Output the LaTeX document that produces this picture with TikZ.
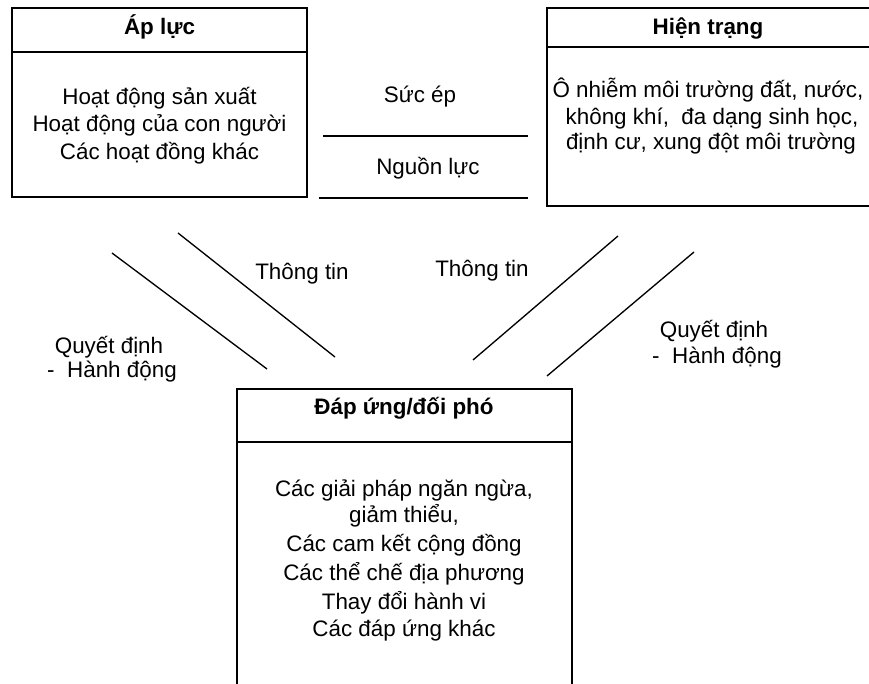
\documentclass[tikz,border=0pt]{standalone}
\usepackage{fontspec}
\setmainfont{Liberation Sans}
\begin{document}
\begin{tikzpicture}[x=0.75pt,y=-0.75pt,
  boxline/.style={line width=1.1pt},
  link/.style={line width=1pt},
  txt/.style={font=\fontsize{16.8}{20}\selectfont, inner sep=0pt, anchor=base},
  hdr/.style={txt, font=\fontsize{16.8}{20}\selectfont\bfseries}]
\useasboundingbox (0,0) rectangle (869,684);
\clip (0,0) rectangle (869,684);

% Left box: Ap luc
\draw[boxline] (12,8) rectangle (307,197);
\draw[boxline] (12,52) -- (307,52);
\node[hdr] (apH) at (159.5,35) {Áp lực};
\node[txt] (ap1) at (159.5,105) {Hoạt động sản xuất};
\node[txt] (ap2) at (159.5,132) {Hoạt động của con người};
\node[txt] (ap3) at (159.5,160) {Các hoạt đồng khác};

% Right box: Hien trang
\draw[boxline] (547,8) rectangle (874,206);
\draw[boxline] (547,47) -- (874,47);
\node[hdr] (htH) at (708,35) {Hiện trạng};
\node[txt] (ht1) at (708,98) {Ô nhiễm môi trường đất, nước,};
\node[txt] (ht2) at (712,124.5) {không khí,\ \ đa dạng sinh học,};
\node[txt] (ht3) at (711,150) {định cư, xung đột môi trường};

% Bottom box: Dap ung
\draw[boxline] (237,700) -- (237,389) -- (572,389) -- (572,700);
\draw[boxline] (237,442) -- (572,442);
\node[hdr] (duH) at (404,415) {Đáp ứng/đối phó};
\node[txt] (du1) at (404,497) {Các giải pháp ngăn ngừa,};
\node[txt] (du2) at (404,523) {giảm thiểu,};
\node[txt] (du3) at (404,552) {Các cam kết cộng đồng};
\node[txt] (du4) at (404,581) {Các thể chế địa phương};
\node[txt] (du5) at (404,610) {Thay đổi hành vi};
\node[txt] (du6) at (404,637) {Các đáp ứng khác};

% Middle lines and labels
\coordinate (m1a) at (323,136);
\coordinate (m1b) at (528,136);
\coordinate (m2a) at (319,198);
\coordinate (m2b) at (528,198);
\draw[link] (m1a) -- (m1b);
\draw[link] (m2a) -- (m2b);
\node[txt] (sucep) at (420,103) {Sức ép};
\node[txt] (nguonluc) at (428,175) {Nguồn lực};

% Diagonal lines
\coordinate (a1) at (112,253);
\coordinate (a2) at (267,369);
\coordinate (b1) at (178,233);
\coordinate (b2) at (335,357);
\coordinate (c1) at (473,360);
\coordinate (c2) at (618,236);
\coordinate (d1) at (547,376);
\coordinate (d2) at (694,252);
\draw[link] (a1) -- (a2);
\draw[link] (b1) -- (b2);
\draw[link] (c1) -- (c2);
\draw[link] (d1) -- (d2);

% Diagonal labels
\node[txt] (ttL) at (302,280) {Thông tin};
\node[txt] (ttR) at (482,277) {Thông tin};
\node[txt] (qdL1) at (109,354) {Quyết định};
\node[txt] (qdL2) at (112,378) {-\ \ Hành động};
\node[txt] (qdR1) at (714,338) {Quyết định};
\node[txt] (qdR2) at (717,364) {-\ \ Hành động};
\end{tikzpicture}
\end{document}
